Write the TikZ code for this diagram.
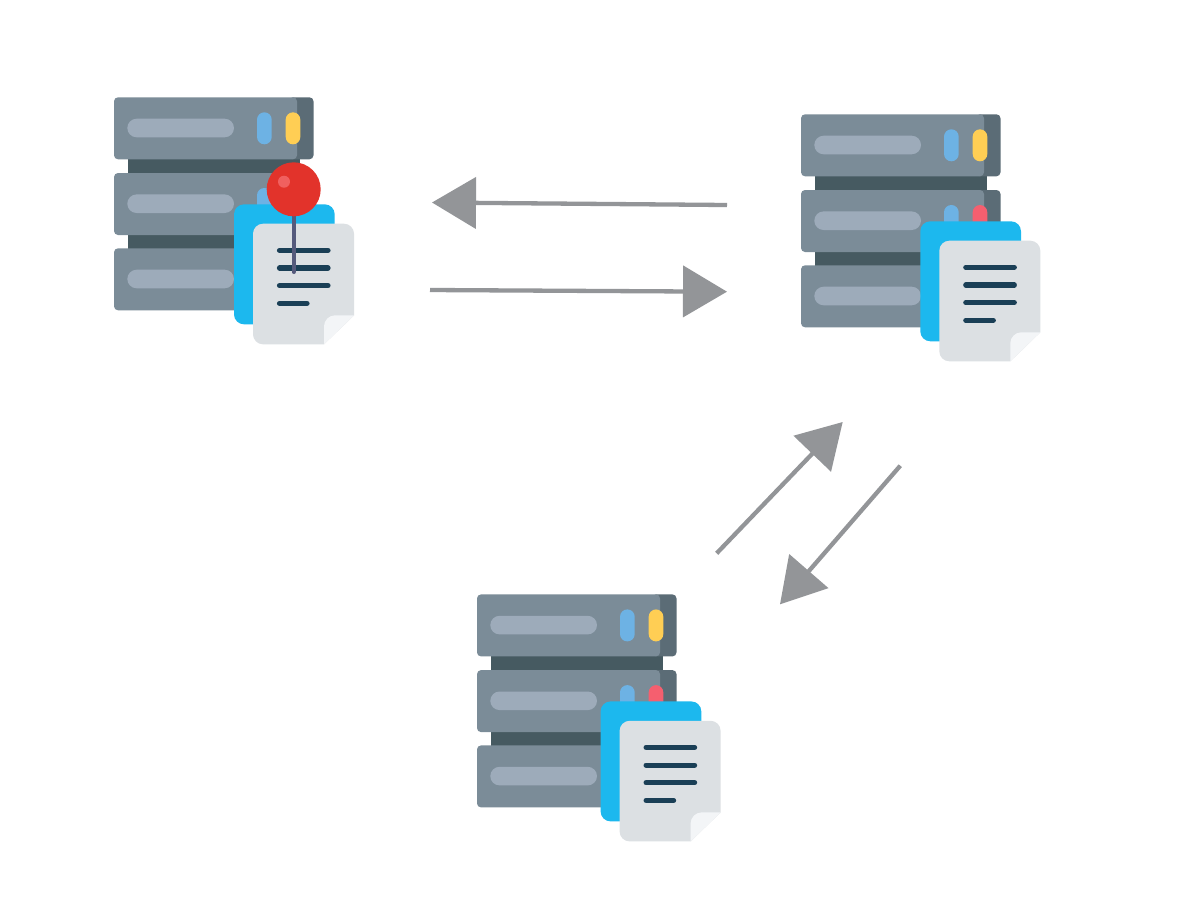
\documentclass[tikz,border=0pt]{standalone}
\usetikzlibrary{arrows.meta}
\definecolor{rackBody}{HTML}{7B8C98}
\definecolor{rackShade}{HTML}{5B6C76}
\definecolor{rackLink}{HTML}{465A61}
\definecolor{rackBar}{HTML}{9DABBA}
\definecolor{ledBlue}{HTML}{6DB2E4}
\definecolor{ledYellow}{HTML}{FFCE54}
\definecolor{ledRed}{HTML}{F55F6F}
\definecolor{docBlue}{HTML}{1CB8EE}
\definecolor{docGrey}{HTML}{DCE0E3}
\definecolor{docFold}{HTML}{F3F5F7}
\definecolor{docInk}{HTML}{1A3F56}
\definecolor{pinRed}{HTML}{E2332B}
\definecolor{pinGlow}{HTML}{F0605F}
\definecolor{pinNeedle}{HTML}{555A7C}
\definecolor{flowGrey}{HTML}{939598}

\begin{document}
\begin{tikzpicture}[x=1pt,y=-1pt,line join=round]
\path[fill=white] (0,0) rectangle (1200,922);
\tikzset{
  flow/.style={draw=flowGrey,line width=4.3pt,-{Triangle[length=44pt,width=51pt,fill=flowGrey]}},
  inkline/.style={draw=docInk,line width=5.2pt,line cap=round},
  unit/.pic={
    \path[fill=rackShade,rounded corners=4pt] (175,#1) rectangle (199.5,#1+62);
    \path[fill=rackBody,rounded corners=4pt] (0,#1) rectangle (183,#1+62);
    \path[fill=rackBar,rounded corners=9.3pt] (13.3,#1+21.4) rectangle (120,#1+40);
  },
  paperstack/.pic={
    \path[fill=docBlue,rounded corners=10pt] (120,107) rectangle (220.7,227);
    \path[fill=docGrey] (149,126.4) -- (230,126.4) .. controls (235.5,126.4) and (240,130.9) .. (240,136.4) -- (240,218) -- (210,247) -- (149,247) .. controls (143.5,247) and (139,242.5) .. (139,237) -- (139,136.4) .. controls (139,130.9) and (143.5,126.4) .. (149,126.4) -- cycle;
    \path[fill=docFold] (240,218) -- (221,218) .. controls (215,218) and (210,223) .. (210,229) -- (210,247) -- cycle;
    \draw[inkline] (165.5,153) -- (214,153);
    \draw[inkline] (165.5,170.7) -- (214,170.7);
    \draw[inkline] (165.5,188.3) -- (214,188.3);
    \draw[inkline] (165.5,206) -- (193,206);
  },
  serverstack/.pic={
    \path[fill=rackLink] (13.7,50) rectangle (186.3,160);
    \pic {unit=0}; \pic {unit=75.7}; \pic {unit=151};
    \path[fill=ledBlue,rounded corners=7.3pt] (143,15) rectangle (157.7,47);
    \path[fill=ledYellow,rounded corners=7.3pt] (171.7,15) rectangle (186.3,47);
    \path[fill=ledBlue,rounded corners=7.3pt] (143,90.7) rectangle (157.7,122.7);
    \path[fill=ledRed,rounded corners=7.3pt] (171.7,90.7) rectangle (186.3,122.7);
    \pic at (#1,0) {paperstack};
  }
}
\pic at (114,97.3) {serverstack=0};
\pic at (801,114.3) {serverstack=-0.7};
\pic at (477,594.4) {serverstack=3.6};
\coordinate (pinTop) at (293.7,189.3);
\coordinate (pinTip) at (293.7,272);
\draw[pinNeedle,line width=4pt,line cap=round] (pinTop) -- (pinTip);
\node[circle,fill=pinRed,minimum size=54pt,inner sep=0pt] (pinHead) at (pinTop) {};
\node[circle,fill=pinGlow,minimum size=12pt,inner sep=0pt] (pinShine) at (284,181.7) {};
\coordinate (backStart) at (727,205);
\coordinate (backEnd) at (432,202.5);
\coordinate (sendStart) at (430,290);
\coordinate (sendEnd) at (727,291.7);
\coordinate (upStart) at (716.7,553.3);
\coordinate (upEnd) at (842.7,422);
\coordinate (downStart) at (900.3,465.7);
\coordinate (downEnd) at (780,604.3);
\draw[flow] (backStart) -- (backEnd);
\draw[flow] (sendStart) -- (sendEnd);
\draw[flow] (upStart) -- (upEnd);
\draw[flow] (downStart) -- (downEnd);
\end{tikzpicture}
\end{document}
